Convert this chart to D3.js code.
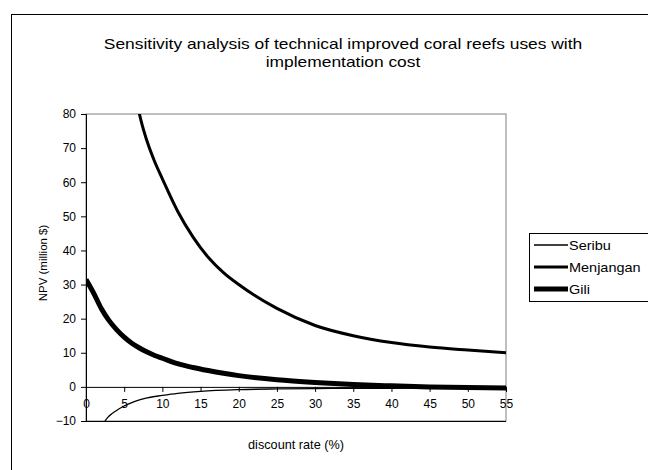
<!DOCTYPE html>
<html>
<head>
<meta charset="utf-8">
<script src="https://cdn.jsdelivr.net/npm/d3@7"></script>
<style>
  body { margin: 0; background: #fff; }
  text { font-family: Arial, "Liberation Sans", sans-serif; fill: #000; }
</style>
</head>
<body>
<svg width="648" height="470"></svg>
<script>
// discount rate (%) and NPV (million $)
var seribuX = [1, 2, 2.5, 3, 4, 5, 6, 7, 8, 10, 12, 15, 20, 25, 30, 35, 40, 45, 50, 55];
var seribuY = [-25, -12.8, -10, -8.6, -6.9, -5.6, -4.6, -3.8, -3.2, -2.5, -1.9, -1.3, -0.8, -0.6, -0.5, -0.4, -0.4, -0.3, -0.3, -0.3];

var menjanganX = [5, 6, 7, 8, 9, 10, 12, 14, 16, 18, 20, 25, 30, 35, 40, 45, 50, 55];
var menjanganY = [112, 93, 80, 72, 66, 61, 51.5, 44, 38, 33.5, 30, 23, 18, 15, 13, 11.7, 10.8, 10];

var giliX = [0, 1, 2, 3, 4, 5, 6, 7, 8, 9, 10, 12, 14, 16, 18, 20, 25, 30, 35, 40, 45, 50, 55];
var giliY = [31.5, 27.5, 23, 19.5, 16.8, 14.6, 12.8, 11.4, 10.2, 9.2, 8.4, 6.8, 5.7, 4.8, 4.0, 3.3, 2.1, 1.3, 0.7, 0.3, 0, -0.2, -0.3];

var xTicks = d3.range(0, 56, 5);
var yTicks = d3.range(-10, 81, 10);

var seriesNames = ["Seribu", "Menjangan", "Gili"];
var seriesWidths = [1.3, 3, 5];

var svg = d3.select("svg");

var x = d3.scaleLinear().domain([0, 55]).range([86, 506]);
var y = d3.scaleLinear().domain([-10, 80]).range([421, 114]);

// outer chart border
svg.append("rect")
    .attr("x", 11.5).attr("y", 14.5)
    .attr("width", 700).attr("height", 500)
    .attr("fill", "none").attr("stroke", "#000");

// the original text is a bit stretched sideways
svg.append("text")
    .attr("transform", "translate(343,49) scale(1.16,1)")
    .attr("text-anchor", "middle")
    .style("font-size", "15px")
    .text("Sensitivity analysis of technical improved coral reefs uses with");
svg.append("text")
    .attr("transform", "translate(343,67) scale(1.16,1)")
    .attr("text-anchor", "middle")
    .style("font-size", "15px")
    .text("implementation cost");

// plot area border
svg.append("rect")
    .attr("x", x(0)).attr("y", y(80))
    .attr("width", x(55) - x(0)).attr("height", y(-10) - y(80))
    .attr("fill", "none").attr("stroke", "#808080");

svg.append("defs").append("clipPath").attr("id", "clip")
  .append("rect")
    .attr("x", x(0)).attr("y", y(80))
    .attr("width", x(55) - x(0) + 3).attr("height", y(-10) - y(80));

// y axis
var yAxis = svg.append("g")
    .attr("transform", "translate(" + x(0) + ",0)")
    .call(d3.axisLeft(y).tickValues(yTicks).tickSize(5).tickPadding(5));
yAxis.select(".domain").attr("stroke", "#000");
yAxis.selectAll("text").style("font-size", "12px");

// x axis crossing at 0
var xAxis = svg.append("g")
    .attr("transform", "translate(0," + y(0) + ")")
    .call(d3.axisBottom(x).tickValues(xTicks).tickSize(5).tickPadding(8));
xAxis.select(".domain").attr("stroke", "#000");
xAxis.selectAll("text").style("font-size", "12px");

svg.append("line")
    .attr("x1", x(0)).attr("x2", x(55))
    .attr("y1", y(-10) + 0.5).attr("y2", y(-10) + 0.5)
    .attr("stroke", "#000");

svg.append("text")
    .attr("transform", "translate(47," + 263 + ") rotate(-90)")
    .attr("text-anchor", "middle")
    .style("font-size", "11.5px")
    .text("NPV (million $)");

svg.append("text")
    .attr("x", 296).attr("y", 449)
    .attr("text-anchor", "middle")
    .style("font-size", "12.7px")
    .text("discount rate (%)");

var line = d3.line()
    .x(function(d) { return x(d[0]); })
    .y(function(d) { return y(d[1]); })
    .curve(d3.curveMonotoneX);

var seriesData = [d3.zip(seribuX, seribuY), d3.zip(menjanganX, menjanganY), d3.zip(giliX, giliY)];

svg.append("g").attr("clip-path", "url(#clip)")
  .selectAll("path")
  .data(seriesData)
  .enter()
  .append("path")
    .attr("d", line)
    .attr("fill", "none")
    .attr("stroke", "#000")
    .attr("stroke-width", function(d, i) { return seriesWidths[i]; });

// legend
var legend = svg.append("g");
legend.append("rect")
    .attr("x", 529.5).attr("y", 233.5)
    .attr("width", 140).attr("height", 68)
    .attr("fill", "#fff").attr("stroke", "#000");

var item = legend.selectAll(".item")
    .data(seriesNames)
    .enter()
    .append("g")
    .attr("transform", function(d, i) { return "translate(0," + (245 + i * 22) + ")"; });
item.append("line")
    .attr("x1", 534).attr("x2", 568)
    .attr("stroke", "#000")
    .attr("stroke-width", function(d, i) { return seriesWidths[i]; });
item.append("text")
    .attr("transform", "translate(569,5) scale(1.15,1)")
    .style("font-size", "12.6px")
    .text(function(d) { return d; });
</script>
</body>
</html>
